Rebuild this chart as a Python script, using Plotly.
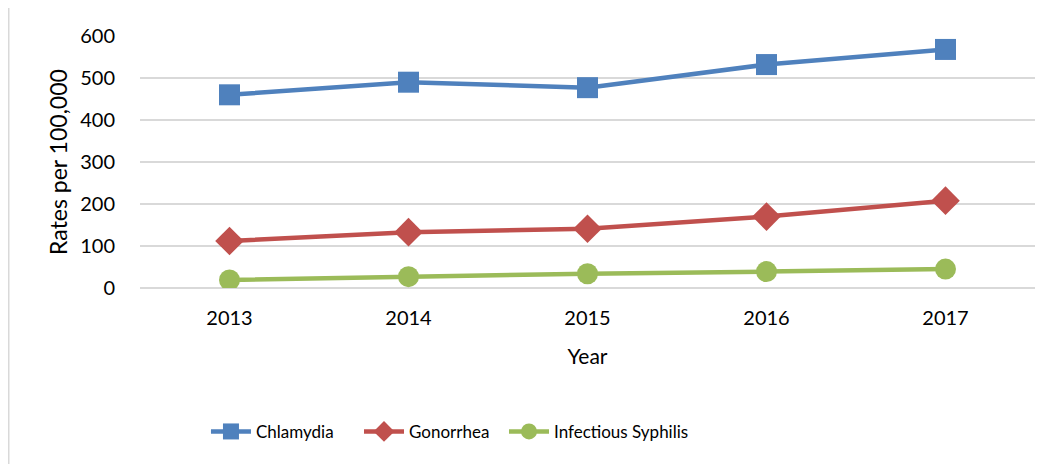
import plotly.graph_objects as go

years = ["2013", "2014", "2015", "2016", "2017"]
chlamydia = [460, 490, 477, 532, 568]
gonorrhea = [112, 133, 141, 170, 208]
syphilis = [19, 27, 34, 39, 45]

series = [
    ("Chlamydia", chlamydia, "#4F81BD", "square", 21, "legend", 0.0737),
    ("Gonorrhea", gonorrhea, "#C0504D", "diamond", 22, "legend2", 0.2447),
    ("Infectious Syphilis", syphilis, "#9BBB59", "circle", 21, "legend3", 0.4067),
]

FONT = "Lato, Carlito, Calibri, sans-serif"

fig = go.Figure()
legends = {}
for name, vals, color, sym, size, leg, lx in series:
    fig.add_trace(go.Scatter(
        x=years, y=vals, name=name, mode="lines+markers",
        line=dict(color=color, width=4.5),
        marker=dict(symbol=sym, size=size, color=color),
        legend=leg,
    ))
    legends[leg] = dict(orientation="h", x=lx, xanchor="left", y=-0.571, yanchor="middle",
                        font=dict(size=17, family=FONT), itemwidth=40,
                        bgcolor="rgba(0,0,0,0)")

# page body has an 8px margin, so the figure is shifted by (8, 8)
fig.update_layout(
    width=1043, height=456,
    margin=dict(l=132, r=16, t=28, b=176),
    paper_bgcolor="white", plot_bgcolor="white",
    font=dict(family=FONT, size=20, color="#000000"),
    showlegend=True,
    xaxis=dict(type="category", range=[-0.5, 4.5], showgrid=False, showline=False,
               zeroline=False, ticks="", tickfont=dict(size=20), ticklabelstandoff=16,
               title=dict(text="Year", font=dict(size=21), standoff=21)),
    yaxis=dict(range=[0, 600], dtick=100, showgrid=True, gridcolor="#D9D9D9", gridwidth=1.5,
               zeroline=True, zerolinecolor="#D9D9D9", zerolinewidth=1.5, showline=False,
               ticks="", tickfont=dict(size=20), ticklabelstandoff=24,
               title=dict(text="Rates per 100,000", font=dict(size=23), standoff=6)),
    shapes=[dict(type="line", xref="paper", yref="paper",
                 x0=(0.75 - 132) / 895, x1=(0.75 - 132) / 895, y0=1 + 28 / 252, y1=(280 - 456) / 252,
                 line=dict(color="#D9D9D9", width=1.5))],
    **legends,
)
fig.write_html("out.html")
